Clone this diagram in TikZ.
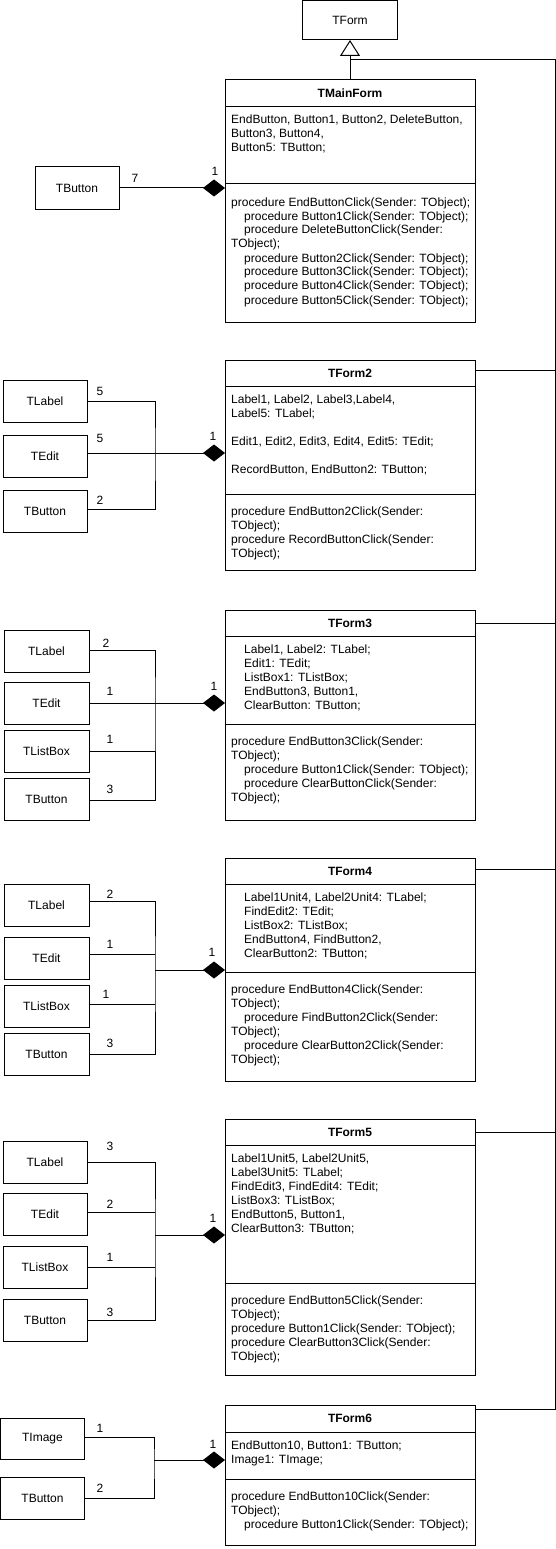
\documentclass[tikz,border=0pt]{standalone}
\usepackage{fontspec}
\setmainfont{Liberation Sans}
\usetikzlibrary{arrows.meta}
\newcommand{\dfont}{\fontsize{12}{14}\selectfont}
\newcommand{\ind}{\hspace*{13pt}}
\tikzset{
  box/.style={draw, line width=1pt, inner sep=0pt, outer sep=0pt, anchor=north west, minimum width=84pt, minimum height=42pt, font=\dfont},
  cls/.style={draw, line width=1pt, inner sep=0pt, outer sep=0pt, anchor=north west, minimum width=250pt},
  hdr/.style={cls, font=\dfont\bfseries},
  txt/.style={anchor=base west, inner sep=0pt, font=\dfont},
  mult/.style={inner sep=0pt, font=\dfont},
  conn/.style={line width=1pt},
  comp/.style={conn, -{Diamond[length=22pt,width=17pt]}},
}
\begin{document}
\begin{tikzpicture}[x=1pt,y=-1pt]
\useasboundingbox (0,0) rectangle (556,1549);

% ---------- TForm and TMainForm ----------
\node[box, minimum width=95pt, minimum height=39.5pt] (tform) at (302.5,0.5) {TForm};

\node[hdr, minimum height=27pt] (f1h) at (225,80) {TMainForm};
\node[cls, minimum height=77pt] (f1a) at (225,107) {};
\node[cls, minimum height=138pt] (f1m) at (225,184) {};
\node[txt] (f1at) at (231,124) {\begin{tabular}[t]{@{}l@{}}
EndButton, Button1, Button2, DeleteButton,\\
Button3, Button4,\\
Button5: TButton;
\end{tabular}};
\node[txt] (f1mt) at (231,206) {\begin{tabular}[t]{@{}l@{}}
procedure EndButtonClick(Sender: TObject);\\
\ind procedure Button1Click(Sender: TObject);\\
\ind procedure DeleteButtonClick(Sender:\\
TObject);\\
\ind procedure Button2Click(Sender: TObject);\\
\ind procedure Button3Click(Sender: TObject);\\
\ind procedure Button4Click(Sender: TObject);\\
\ind procedure Button5Click(Sender: TObject);
\end{tabular}};

\draw[conn, -{Triangle[open, length=16pt, width=20pt]}] (f1h.north) -- (tform.south);

\node[box] (s1b) at (35,167) {TButton};
\draw[comp] (s1b.east) -- (s1b.east -| f1m.west);
\node[mult] (m1a) at (135,178) {7};
\node[mult] (m1b) at (215,171) {1};

% ---------- TForm2 ----------
\node[hdr, minimum height=26pt] (f2h) at (225,360) {TForm2};
\node[cls, minimum height=108pt] (f2a) at (225,386) {};
\node[cls, minimum height=76pt] (f2m) at (225,494) {};
\node[txt] (f2at) at (231,403) {\begin{tabular}[t]{@{}l@{}}
Label1, Label2, Label3,Label4,\\
Label5: TLabel;\\
\\
Edit1, Edit2, Edit3, Edit4, Edit5: TEdit;\\
\\
RecordButton, EndButton2: TButton;
\end{tabular}};
\node[txt] (f2mt) at (231,515) {\begin{tabular}[t]{@{}l@{}}
procedure EndButton2Click(Sender:\\
TObject);\\
procedure RecordButtonClick(Sender:\\
TObject);
\end{tabular}};

\node[box] (s2l) at (3,380) {TLabel};
\node[box] (s2e) at (3,435) {TEdit};
\node[box] (s2b) at (3,490) {TButton};
\coordinate (s2j) at (155,453);
\draw[conn] (s2l.east) -| (s2j) |- ([yshift=2pt]s2b.east);
\draw[comp] ([yshift=3pt]s2e.east) -- (s2j -| f2a.west);
\node[mult] at (100,391) {5};
\node[mult] at (100,438) {5};
\node[mult] at (100,500) {2};
\node[mult] at (213,436) {1};

% ---------- TForm3 ----------
\node[hdr, minimum height=26pt] (f3h) at (225,610) {TForm3};
\node[cls, minimum height=88pt] (f3a) at (225,636) {};
\node[cls, minimum height=96pt] (f3m) at (225,724) {};
\node[txt] (f3at) at (244,653) {\begin{tabular}[t]{@{}l@{}}
Label1, Label2: TLabel;\\
Edit1: TEdit;\\
ListBox1: TListBox;\\
EndButton3, Button1,\\
ClearButton: TButton;
\end{tabular}};
\node[txt] (f3mt) at (231,745) {\begin{tabular}[t]{@{}l@{}}
procedure EndButton3Click(Sender:\\
TObject);\\
\ind procedure Button1Click(Sender: TObject);\\
\ind procedure ClearButtonClick(Sender:\\
TObject);
\end{tabular}};

\node[box, minimum width=85pt] (s3l) at (4,630) {TLabel};
\node[box, minimum width=85pt] (s3e) at (4,682) {TEdit};
\node[box, minimum width=85pt] (s3x) at (4,730) {TListBox};
\node[box, minimum width=85pt] (s3b) at (4,778) {TButton};
\coordinate (s3j) at (155,703);
\draw[conn] ([yshift=1pt]s3l.east) -| (s3j) |- ([yshift=-1pt]s3b.east);
\draw[conn] (s3x.east) -- (s3x.east -| s3j);
\draw[comp] (s3e.east) -- (s3j -| f3a.west);
\node[mult] at (106,643) {2};
\node[mult] at (110,691) {1};
\node[mult] at (110,739) {1};
\node[mult] at (110,789) {3};
\node[mult] at (214,686) {1};

% ---------- TForm4 ----------
\node[hdr, minimum height=26pt] (f4h) at (225,858) {TForm4};
\node[cls, minimum height=88pt] (f4a) at (225,884) {};
\node[cls, minimum height=109pt] (f4m) at (225,972) {};
\node[txt] (f4at) at (244,901) {\begin{tabular}[t]{@{}l@{}}
Label1Unit4, Label2Unit4: TLabel;\\
FindEdit2: TEdit;\\
ListBox2: TListBox;\\
EndButton4, FindButton2,\\
ClearButton2: TButton;
\end{tabular}};
\node[txt] (f4mt) at (231,993) {\begin{tabular}[t]{@{}l@{}}
procedure EndButton4Click(Sender:\\
TObject);\\
\ind procedure FindButton2Click(Sender:\\
TObject);\\
\ind procedure ClearButton2Click(Sender:\\
TObject);
\end{tabular}};

\node[box, minimum width=85pt] (s4l) at (4,884) {TLabel};
\node[box, minimum width=85pt] (s4e) at (4,937) {TEdit};
\node[box, minimum width=85pt] (s4x) at (4,985) {TListBox};
\node[box, minimum width=85pt] (s4b) at (4,1033) {TButton};
\coordinate (s4j) at (155,970);
\draw[conn] ([yshift=4pt]s4l.east) -| (s4j) |- (s4b.east);
\draw[conn] ([yshift=4pt]s4e.east) -- ([yshift=4pt]s4e.east -| s4j);
\draw[conn] ([yshift=2pt]s4x.east) -- ([yshift=2pt]s4x.east -| s4j);
\draw[comp] (s4j) -- (s4j -| f4a.west);
\node[mult] at (110,894) {2};
\node[mult] at (110,944) {1};
\node[mult] at (106,994) {1};
\node[mult] at (110,1043) {3};
\node[mult] at (212,952) {1};

% ---------- TForm5 ----------
\node[hdr, minimum height=26pt] (f5h) at (225,1119) {TForm5};
\node[cls, minimum height=138pt] (f5a) at (225,1145) {};
\node[cls, minimum height=92pt] (f5m) at (225,1283) {};
\node[txt] (f5at) at (231,1162) {\begin{tabular}[t]{@{}l@{}}
Label1Unit5, Label2Unit5,\\
Label3Unit5: TLabel;\\
FindEdit3, FindEdit4: TEdit;\\
ListBox3: TListBox;\\
EndButton5, Button1,\\
ClearButton3: TButton;
\end{tabular}};
\node[txt] (f5mt) at (231,1304) {\begin{tabular}[t]{@{}l@{}}
procedure EndButton5Click(Sender:\\
TObject);\\
procedure Button1Click(Sender: TObject);\\
procedure ClearButton3Click(Sender:\\
TObject);
\end{tabular}};

\node[box] (s5l) at (3,1141) {TLabel};
\node[box] (s5e) at (3,1193) {TEdit};
\node[box] (s5x) at (3,1246) {TListBox};
\node[box] (s5b) at (3,1299) {TButton};
\coordinate (s5j) at (155,1235);
\draw[conn] (s5l.east) -| (s5j) |- (s5b.east);
\draw[conn] ([yshift=2pt]s5e.east) -- ([yshift=2pt]s5e.east -| s5j);
\draw[conn] (s5x.east) -- (s5x.east -| s5j);
\draw[comp] (s5j) -- (s5j -| f5a.west);
\node[mult] at (110,1146) {3};
\node[mult] at (110,1204) {2};
\node[mult] at (110,1257) {1};
\node[mult] at (110,1312) {3};
\node[mult] at (213,1218) {1};

% ---------- TForm6 ----------
\node[hdr, minimum height=27pt] (f6h) at (225,1405) {TForm6};
\node[cls, minimum height=47pt] (f6a) at (225,1432) {};
\node[cls, minimum height=66pt] (f6m) at (225,1479) {};
\node[txt] (f6at) at (231,1449) {\begin{tabular}[t]{@{}l@{}}
EndButton10, Button1: TButton;\\
Image1: TImage;
\end{tabular}};
\node[txt] (f6mt) at (231,1500) {\begin{tabular}[t]{@{}l@{}}
procedure EndButton10Click(Sender:\\
TObject);\\
\ind procedure Button1Click(Sender: TObject);
\end{tabular}};

\node[box, minimum height=41pt] (s6i) at (0.5,1418) {TImage};
\node[box] (s6b) at (0.5,1477) {TButton};
\coordinate (s6j) at (154,1460);
\draw[conn] ([yshift=1pt]s6i.east) -| (s6j) |- (s6b.east);
\draw[comp] (s6j) -- (s6j -| f6a.west);
\node[mult] at (100,1428) {1};
\node[mult] at (100,1488) {2};
\node[mult] at (213,1444) {1};

% ---------- inheritance routing on the right ----------
\coordinate (rc) at (555,60);
\coordinate (jn) at (350,60);
\draw[conn] ([yshift=9pt]f6h.east) -| (rc) -- (jn);
\draw[conn] ([yshift=3pt]f2h.east) -- ([yshift=3pt]f2h.east -| rc);
\draw[conn] (f3h.east) -- (f3h.east -| rc);
\draw[conn] ([yshift=2pt]f4h.east) -- ([yshift=2pt]f4h.east -| rc);
\draw[conn] (f5h.east) -- (f5h.east -| rc);
\end{tikzpicture}
\end{document}
